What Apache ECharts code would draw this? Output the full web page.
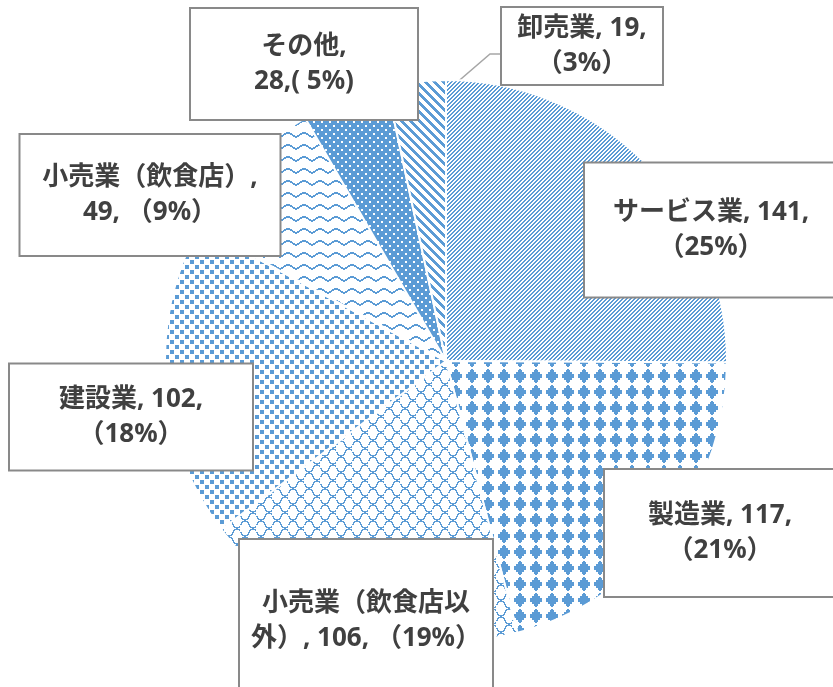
<!DOCTYPE html>
<html><head><meta charset="utf-8">
<script src="https://cdn.jsdelivr.net/npm/echarts@6/dist/echarts.min.js"></script>
<style>html,body{margin:0;padding:0;background:#fff}#c{width:833px;height:687px}</style>
</head><body><div id="c"></div>
<script>
// ---- data ----
const categories = ['サービス業', '製造業', '小売業（飲食店以外）', '建設業', '小売業（飲食店）', 'その他', '卸売業'];
const values = [141, 117, 106, 102, 49, 28, 19];
const labelTexts = [
  'サービス業, 141,\n（25%）',
  '製造業, 117,\n（21%）',
  '小売業（飲食店以\n外）, 106, （19%）',
  '建設業, 102,\n（18%）',
  '小売業（飲食店）,\n49, （9%）',
  'その他,\n28,( 5%)',
  '卸売業, 19,\n（3%）'
];
// ---- label box layout (center x/y, width, height) ----
const boxes = [
  {cx: 711, cy: 230, w: 252, h: 133},
  {cx: 720, cy: 533, w: 230, h: 126},
  {cx: 366, cy: 621, w: 252, h: 162},
  {cx: 131, cy: 417, w: 242, h: 105},
  {cx: 150, cy: 195, w: 259, h: 120},
  {cx: 304, cy: 64, w: 226, h: 110},
  {cx: 582, cy: 46, w: 160, h: 76}
];
const BLUE = '#5B9BD5';
const LH = 35;

function tile(w, h, fn, bg) {
  const c = document.createElement('canvas');
  c.width = w; c.height = h;
  const g = c.getContext('2d');
  g.fillStyle = bg || '#ffffff'; g.fillRect(0, 0, w, h);
  g.fillStyle = BLUE;
  fn(g, w, h);
  return c;
}
const patterns = [
  // サービス: thin "/" stripes
  tile(8, 8, (g) => { for (let y = 0; y < 8; y++) for (let x = 0; x < 8; x++) if ((x + y) % 4 < 2) g.fillRect(x, y, 1, 1); }),
  // 製造: diamonds
  tile(16, 16, (g) => { for (let y = 0; y < 16; y++) for (let x = 0; x < 16; x++) {
    const dx = Math.abs(x - 7.5), dy = Math.abs(y - 7.5);
    if (Math.floor(dx / 2) + Math.floor(dy / 2) <= 2 || (dx < 1 && dy < 7)) g.fillRect(x, y, 1, 1); } }),
  // 小売(以外): wave cells
  tile(16, 16, (g) => {
    function line(off, ph) {
      let prev = null;
      for (let x = 0; x < 16; x++) {
        const s = Math.sin(2 * Math.PI * x / 16 + ph);
        const y = Math.round(off + 3.5 * Math.sign(s) * Math.pow(Math.abs(s), 0.6));
        if (prev !== null) { const a = Math.min(prev, y), b = Math.max(prev, y); for (let k = a; k <= b; k++) g.fillRect(x, ((k % 16) + 16) % 16, 1, 1); }
        else g.fillRect(x, ((y % 16) + 16) % 16, 1, 1);
        prev = y;
      }
    }
    line(4, 0); line(12, Math.PI);
  }),
  // 建設: small squares
  tile(10, 10, (g) => { g.fillRect(0, 0, 4, 4); g.fillRect(5, 5, 4, 4); }),
  // 小売(飲食店): zigzag
  tile(16, 12, (g) => { for (let x = 0; x < 16; x++) { const t = x < 8 ? x : 15 - x; const y = Math.floor(t * 5 / 8); g.fillRect(x, y, 1, 2); } }),
  // その他: blue with white dots
  tile(8, 8, (g) => { g.fillStyle = '#ffffff'; g.fillRect(1, 1, 2, 2); g.fillRect(5, 5, 2, 2); }, BLUE),
  // 卸売: wide "\" stripes
  tile(9, 9, (g) => { for (let y = 0; y < 9; y++) for (let x = 0; x < 9; x++) if (((x - y) % 9 + 9) % 9 < 4) g.fillRect(x, y, 1, 1); })
];

const data = categories.map((name, i) => {
  const b = boxes[i];
  const pv = (b.h - 2 * LH) / 2;
  return {
    name: name,
    value: values[i],
    itemStyle: { color: { image: patterns[i], repeat: 'repeat' } },
    label: { formatter: labelTexts[i], width: b.w, padding: [pv, 0, pv, 0] },
    labelLine: { show: i === 6 }
  };
});

const chart = echarts.init(document.getElementById('c'), null, { renderer: 'canvas' });
chart.setOption({
  animation: false,
  backgroundColor: '#ffffff',
  series: [{
    type: 'pie',
    center: [446, 361],
    radius: 281,
    startAngle: 90,
    clockwise: true,
    data: data,
    itemStyle: { borderColor: '#ffffff', borderWidth: 2 },
    label: {
      show: true,
      position: 'outer',
      overflow: 'none',
      color: '#404040',
      fontFamily: "'Noto Sans', 'Noto Sans CJK JP', sans-serif",
      fontWeight: 'bold',
      fontSize: 26,
      lineHeight: LH,
      align: 'center',
      backgroundColor: '#ffffff',
      borderColor: '#898989',
      borderWidth: 2
    },
    labelLine: { lineStyle: { color: '#A6A6A6', width: 1.5 }, length: 10, length2: 10 },
    labelLayout: function (p) {
      const b = boxes[p.dataIndex];
      const out = { x: b.cx, y: b.cy, align: 'center', verticalAlign: 'middle' };
      if (p.dataIndex === 6) {
        const r = p.rect;
        const left = b.cx - b.w / 2;
        out.labelLinePoints = [[r.x + r.width, r.y + 12], [left - 12, b.cy + 8], [left, b.cy + 8]];
      }
      return out;
    },
    emphasis: { disabled: true }
  }]
});
</script></body></html>
